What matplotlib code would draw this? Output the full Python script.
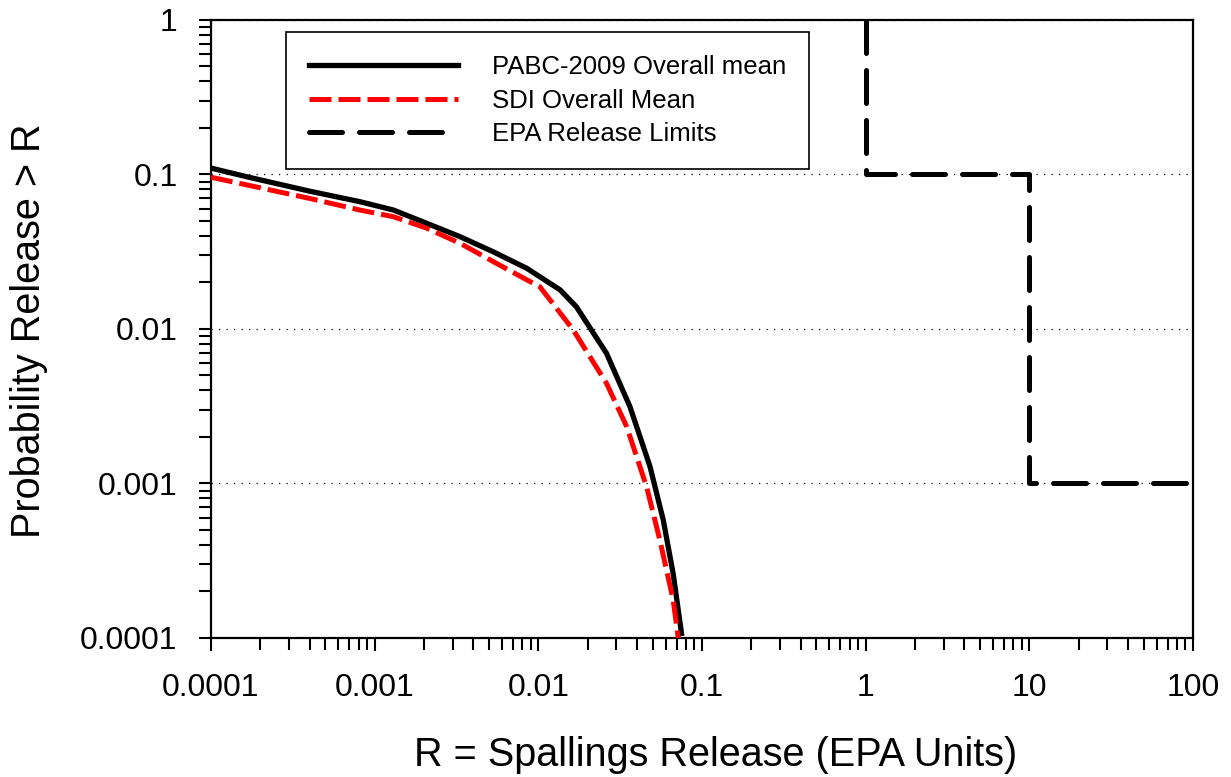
import matplotlib
matplotlib.use('Agg')
import matplotlib.pyplot as plt

# data
release_pabc = [1e-4, 1.7e-4, 4e-4, 8.1e-4, 1.3e-3, 2.08e-3, 3.32e-3, 5.3e-3, 8.5e-3,
                1.36e-2, 1.71e-2, 2.61e-2, 3.63e-2, 4.81e-2, 5.8e-2, 6.67e-2, 7.5e-2]
prob_pabc = [0.110, 0.096, 0.078, 0.0667, 0.0589, 0.0483, 0.0396, 0.0316, 0.0247,
             0.0179, 0.0139, 0.00696, 0.00314, 0.00129, 0.00058, 0.00026, 0.000107]

release_sdi = [1e-4, 4e-4, 8.1e-4, 1.3e-3, 2.08e-3, 3.32e-3, 5.3e-3, 8.5e-3, 1.02e-2,
               1.63e-2, 2.61e-2, 3.47e-2, 4.59e-2, 5.53e-2, 6.67e-2, 7.16e-2]
prob_sdi = [0.096, 0.070, 0.0589, 0.0533, 0.0449, 0.0359, 0.0273, 0.0208, 0.0188,
            0.0099, 0.00445, 0.00233, 0.00095, 0.00043, 0.000176, 0.0001]

release_epa = [1, 1, 10, 10, 100]
prob_epa = [1, 0.1, 0.1, 0.001, 0.001]

labels = ['PABC-2009 Overall mean', 'SDI Overall Mean', 'EPA Release Limits']
x_ticks = [1e-4, 1e-3, 1e-2, 1e-1, 1, 10, 100]
x_ticklabels = ['0.0001', '0.001', '0.01', '0.1', '1', '10', '100']
y_ticks = [1e-4, 1e-3, 1e-2, 1e-1, 1]
y_ticklabels = ['0.0001', '0.001', '0.01', '0.1', '1']

plt.rcParams['font.family'] = ['Liberation Sans', 'DejaVu Sans']

fig = plt.figure(figsize=(12.31, 7.77), dpi=100)
ax = fig.add_axes([0.1714, 0.1789, 0.7977, 0.7954])

ax.plot(release_pabc, prob_pabc, color='black', linewidth=3.8, label=labels[0], zorder=4)
ax.plot(release_sdi, prob_sdi, color='red', linewidth=3.6, linestyle=(0, (4.4, 1.4)),
        label=labels[1], zorder=5)
ax.plot(release_epa, prob_epa, color='black', linewidth=3.6, linestyle=(0, (6.6, 3.4)),
        dash_capstyle='round', label=labels[2], zorder=4)

ax.set_xscale('log')
ax.set_yscale('log')
ax.set_xlim(1e-4, 100)
ax.set_ylim(1e-4, 1)
ax.set_xticks(x_ticks, x_ticklabels)
ax.set_yticks(y_ticks, y_ticklabels)
ax.xaxis.set_minor_formatter(matplotlib.ticker.NullFormatter())
ax.yaxis.set_minor_formatter(matplotlib.ticker.NullFormatter())

ax.tick_params(which='both', direction='out', width=1.5, top=False, right=False, labelsize=23)
ax.tick_params(which='major', length=9)
ax.tick_params(which='minor', length=8.5)
ax.tick_params(axis='x', pad=16)
ax.tick_params(axis='y', pad=15)
for s in ax.spines.values():
    s.set_linewidth(1.6)

ax.yaxis.grid(True, which='major', linestyle=(0, (1, 5)), linewidth=0.9, color='black')

ax.set_xlabel('R = Spallings Release (EPA Units)', fontsize=28.5, va='center')
ax.xaxis.set_label_coords(0.514, -0.19)
ax.set_ylabel('Probability Release > R', fontsize=28.5, va='center', ha='center')
ax.yaxis.set_label_coords(-0.1853, 0.497)

leg = ax.legend(loc='upper left', bbox_to_anchor=(0.0764, 0.9806), borderaxespad=0,
                fontsize=18.5, handlelength=5.8, handletextpad=1.3, borderpad=0.9,
                labelspacing=0.37, fancybox=False, framealpha=1, edgecolor='black')
leg.get_frame().set_linewidth(1.2)

fig.savefig('out.png', dpi=100)
